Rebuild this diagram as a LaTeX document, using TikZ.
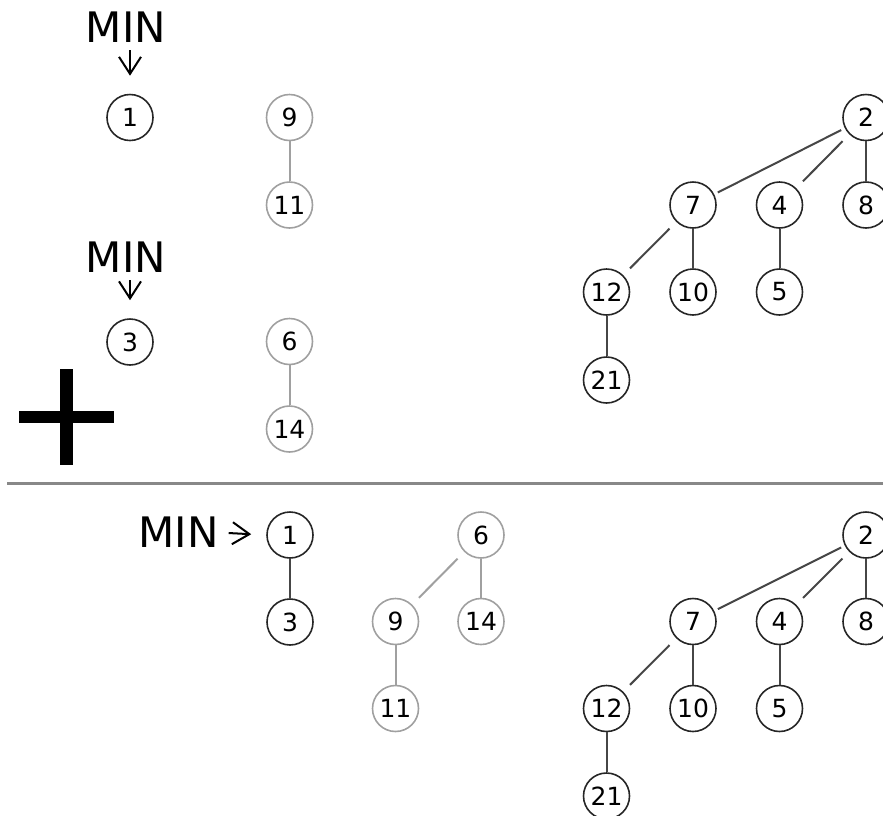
\documentclass[tikz,border=0pt]{standalone}
\usepackage{fontspec}
\setmainfont{DejaVu Sans}
\definecolor{heapgray}{RGB}{160,160,160}
\definecolor{edgedark}{RGB}{70,70,70}
\definecolor{rulegray}{RGB}{136,136,136}
\usetikzlibrary{arrows.meta}

\begin{document}
\begin{tikzpicture}[x=1pt, y=-1pt,
  heapnode/.style={circle, draw=black!85, line width=1.6pt, minimum size=46pt, inner sep=0pt, font=\fontsize{25}{25}\selectfont},
  grayheap/.style={heapnode, draw=heapgray},
  heapedge/.style={edgedark, line width=2pt},
  grayedge/.style={heapgray, line width=2pt},
  gap/.style={shorten <=#1, shorten >=#1},
  minlabel/.style={inner sep=0pt, font=\fontsize{42}{42}\selectfont},
  minarrow/.style={-{Straight Barb[length=17pt, width=22pt]}, line width=2pt}]
  \useasboundingbox (0,0) rectangle (883,815);

  % Heap H1
  \node[minlabel] (minA) at (126,27.5) {MIN};
  \node[heapnode] (a1) at (130,117.5) {1};
  \draw[minarrow, shorten <=7pt, shorten >=18pt] (minA.south -| a1) -- (a1.north);
  \node[grayheap] (a9) at (289.5,117.5) {9};
  \node[grayheap] (a11) at (289.5,205) {11};
  \draw[grayedge] (a9) -- (a11);
  \node[heapnode] (a2) at (866,117.5) {2};
  \node[heapnode] (a7) at (693,205) {7};
  \node[heapnode] (a4) at (779.5,205) {4};
  \node[heapnode] (a8) at (866,205) {8};
  \node[heapnode] (a12) at (606.5,292) {12};
  \node[heapnode] (a10) at (693,292) {10};
  \node[heapnode] (a5) at (779.5,292) {5};
  \node[heapnode] (a21) at (606.5,380) {21};
  \draw[heapedge, gap=4pt] (a2) -- (a7);
  \draw[heapedge, gap=9.5pt] (a2) -- (a4);
  \draw[heapedge] (a2) -- (a8);
  \draw[heapedge, gap=9.5pt] (a7) -- (a12);
  \draw[heapedge] (a7) -- (a10);
  \draw[heapedge] (a4) -- (a5);
  \draw[heapedge] (a12) -- (a21);

  % Heap H2
  \node[minlabel] (minB) at (126,257.5) {MIN};
  \node[heapnode] (b3) at (130,342) {3};
  \draw[minarrow, shorten <=7pt, shorten >=18pt] (minB.south -| b3) -- (b3.north);
  \node[grayheap] (b6) at (289.5,341.5) {6};
  \node[grayheap] (b14) at (289.5,429) {14};
  \draw[grayedge] (b6) -- (b14);

  % Plus
  \fill (18.5,411) rectangle (114,423);
  \fill (60,369) rectangle (73,465);

  % Rule
  \draw[rulegray, line width=3pt] (7,483) -- (883,483);

  % Union
  \node[minlabel] (minC) at (178.5,532.5) {MIN};
  \node[heapnode] (c1) at (290,535) {1};
  \node[heapnode] (c3) at (290,622) {3};
  \draw[minarrow, shorten <=10pt, shorten >=15pt] (minC.east) -- (c1.west);
  \draw[heapedge] (c1) -- (c3);
  \node[grayheap] (c6) at (481,535) {6};
  \node[grayheap] (c9) at (395.5,621.5) {9};
  \node[grayheap] (c14) at (481,621.5) {14};
  \node[grayheap] (c11) at (395.5,708.5) {11};
  \draw[grayedge, gap=9.5pt] (c6) -- (c9);
  \draw[grayedge] (c6) -- (c14);
  \draw[grayedge] (c9) -- (c11);
  \node[heapnode] (c2) at (866,535) {2};
  \node[heapnode] (c7) at (693,621.5) {7};
  \node[heapnode] (c4) at (779.5,621.5) {4};
  \node[heapnode] (c8) at (866,621.5) {8};
  \node[heapnode] (c12) at (606.5,708.5) {12};
  \node[heapnode] (c10) at (693,708.5) {10};
  \node[heapnode] (c5) at (779.5,708.5) {5};
  \node[heapnode] (c21) at (606.5,796) {21};
  \draw[heapedge, gap=4pt] (c2) -- (c7);
  \draw[heapedge, gap=9.5pt] (c2) -- (c4);
  \draw[heapedge] (c2) -- (c8);
  \draw[heapedge, gap=9.5pt] (c7) -- (c12);
  \draw[heapedge] (c7) -- (c10);
  \draw[heapedge] (c4) -- (c5);
  \draw[heapedge] (c12) -- (c21);
\end{tikzpicture}
\end{document}
